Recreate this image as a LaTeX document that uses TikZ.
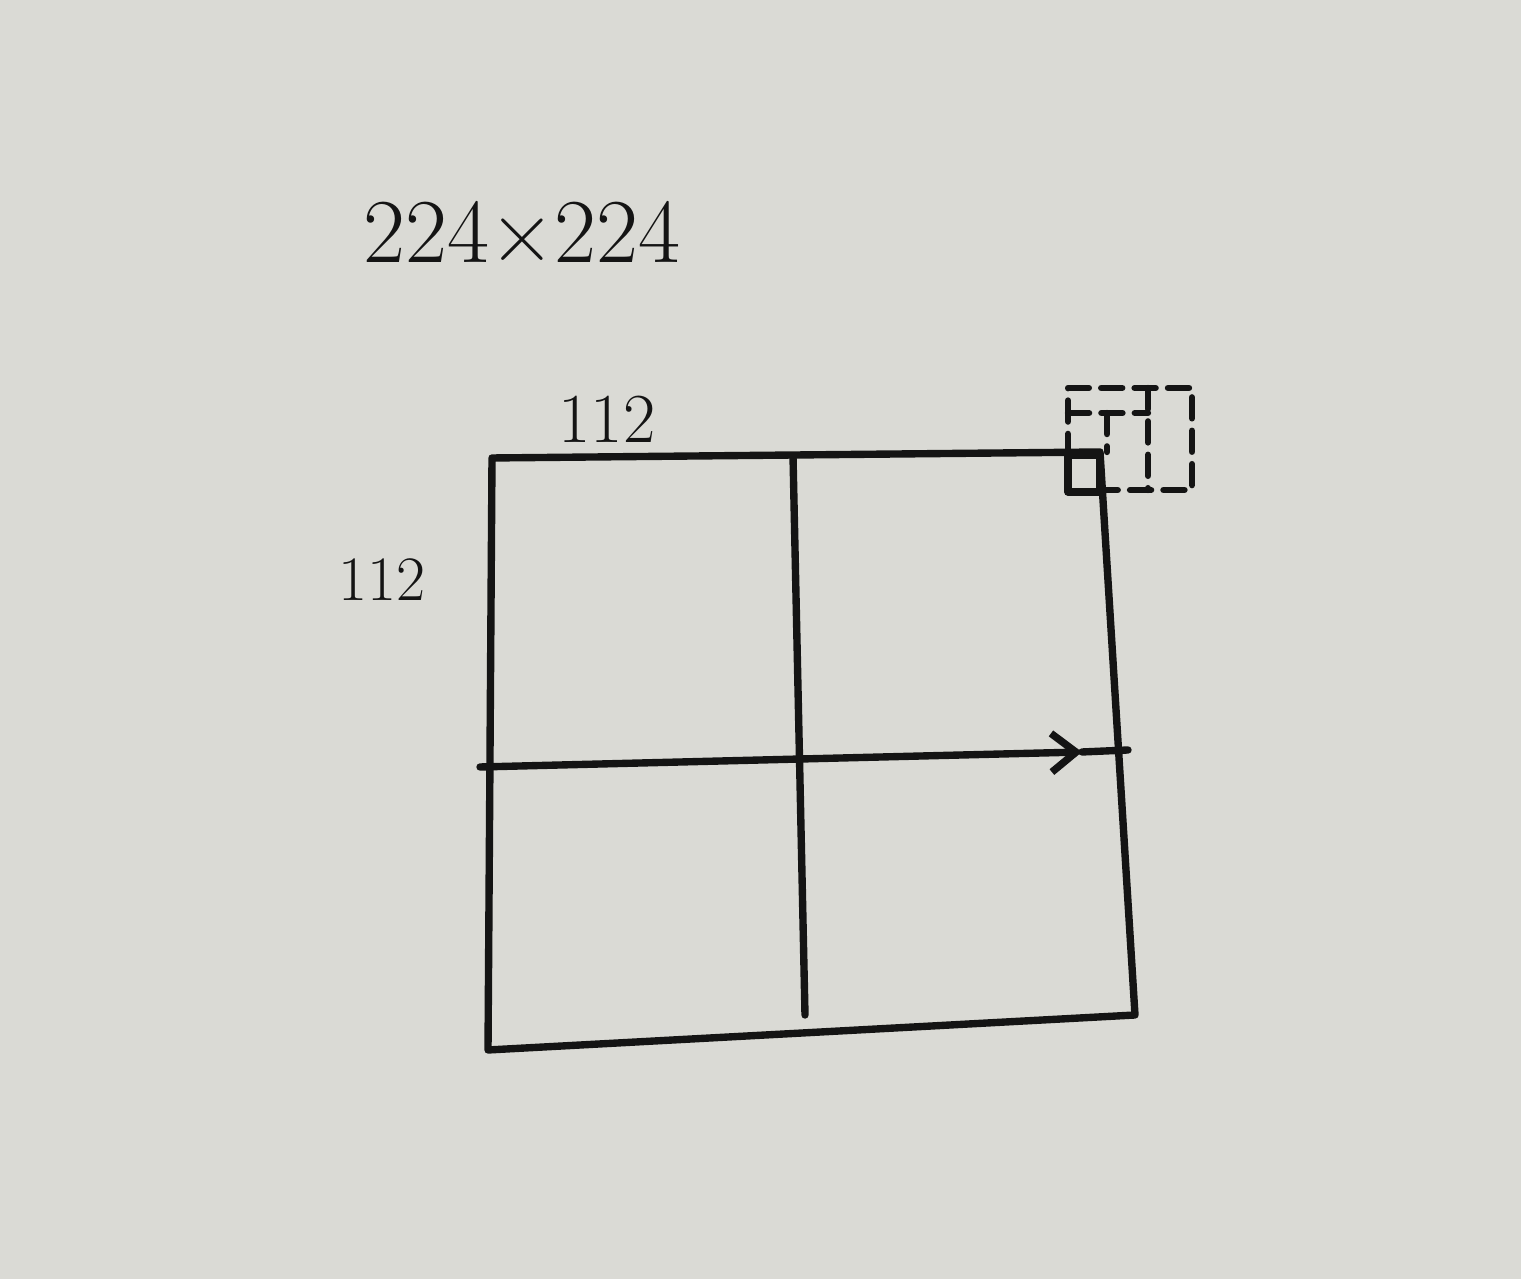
\documentclass[tikz,border=0pt]{standalone}
\usepackage{tikz}
\usetikzlibrary{arrows.meta}
\definecolor{paper}{RGB}{218,218,213}
\definecolor{ink}{RGB}{20,20,20}

\begin{document}
\begin{tikzpicture}[x=1cm,y=1cm,>={Straight Barb[length=7pt,width=11pt]},
  pen/.style={draw=ink,line width=2.1pt,line cap=round,line join=round},
  dashpen/.style={pen,line width=1.8pt,dash pattern=on 6pt off 3.5pt},
  hand/.style={inner sep=0pt,text=ink,font=\fontsize{#1}{#1}\selectfont}]
% sheet of paper
\fill[paper] (0,0) rectangle (15.21,12.79);
\useasboundingbox (0,0) rectangle (15.21,12.79);

% corners of the 2x2 grid
\coordinate (TL) at (4.92,8.21);
\coordinate (TR) at (11.00,8.27);
\coordinate (BR) at (11.35,2.64);
\coordinate (BL) at (4.88,2.29);
\coordinate (MT) at (7.93,8.23);
\coordinate (MB) at (8.05,2.64);
\coordinate (ML) at (4.80,5.12);
\coordinate (MA) at (10.82,5.27);
\coordinate (MR) at (11.28,5.29);

\draw[pen] (TL) -- (TR) -- (BR) -- (BL) -- cycle;
\draw[pen] (MT) -- (MB);

% scan direction
\draw[pen,->] (ML) -- (MA);
\draw[pen] (MA) -- (MR);

% window at the top-right corner
\begin{scope}
  \coordinate (W1) at (10.68,8.24);
  \coordinate (W2) at (11.00,7.87);
  \draw[pen] (W1) rectangle (W2);
  \draw[dashpen] (W1) -- (10.68,8.91) -- (11.92,8.91) -- (11.92,7.89) -- (11.00,7.89);
  \draw[dashpen] (10.68,8.66) -- (11.48,8.66);
  \draw[dashpen] (11.48,8.91) -- (11.48,7.89);
  \draw[dashpen] (11.07,8.66) -- (11.07,8.27);
\end{scope}

% labels
\node[hand=26pt] (size) at (5.22,10.47) {224\texttimes224};
\node[hand=20pt,anchor=base] (wtop) at (6.07,8.36) {112};
\node[hand=18pt] (hleft) at (3.82,6.99) {112};
\end{tikzpicture}
\end{document}
